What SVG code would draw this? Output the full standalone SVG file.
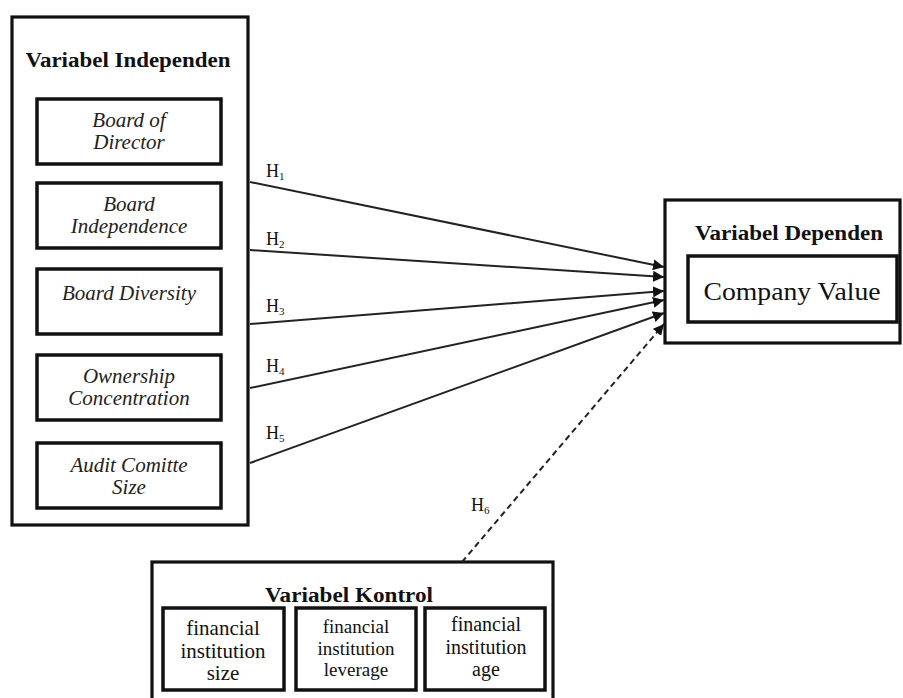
<svg xmlns="http://www.w3.org/2000/svg" width="903" height="698" viewBox="0 0 903 698">
<style>
.outer{fill:#fff;stroke:#111;stroke-width:3.2}
.inner{fill:#fff;stroke:#111;stroke-width:3.5}
.hdr{font-family:"Liberation Serif","Times New Roman",serif;font-weight:bold;font-size:20px;fill:#111;text-anchor:middle}
.it{font-family:"Liberation Serif","Times New Roman",serif;font-style:italic;font-size:21px;fill:#222;text-anchor:middle}
.rm{font-family:"Liberation Serif","Times New Roman",serif;font-size:19px;fill:#111;text-anchor:middle}
.h{font-family:"Liberation Serif","Times New Roman",serif;font-size:18px;fill:#111}
.ln{stroke:#222;stroke-width:2;fill:none}
.dash{stroke:#222;stroke-width:2;fill:none;stroke-dasharray:6 4}
</style>
<defs>
<marker id="arr" viewBox="0 0 10 10" refX="10" refY="5" markerWidth="5.5" markerHeight="5.5" orient="auto" markerUnits="strokeWidth">
<path d="M0,0 L10,5 L0,10 z" fill="#111"/>
</marker>
</defs>
<rect width="903" height="698" fill="#fff"/>

<g id="independen">
<rect class="outer" x="12" y="17" width="236" height="508"/>
<text class="hdr" x="128" y="67" textLength="205" lengthAdjust="spacingAndGlyphs">Variabel Independen</text>
</g>
<g id="board-of-director">
<rect class="inner" x="37" y="99" width="184" height="65"/>
<text class="it" x="129" y="127">Board of</text>
<text class="it" x="129" y="149">Director</text>
</g>
<g id="board-independence">
<rect class="inner" x="37" y="183" width="184" height="65"/>
<text class="it" x="129" y="211">Board</text>
<text class="it" x="129" y="233">Independence</text>
</g>
<g id="board-diversity">
<rect class="inner" x="37" y="269" width="184" height="65"/>
<text class="it" x="129" y="300">Board Diversity</text>
</g>
<g id="ownership-concentration">
<rect class="inner" x="37" y="355" width="184" height="65"/>
<text class="it" x="129" y="383">Ownership</text>
<text class="it" x="129" y="405">Concentration</text>
</g>
<g id="audit-comitte-size">
<rect class="inner" x="37" y="443" width="184" height="65"/>
<text class="it" x="129" y="472">Audit Comitte</text>
<text class="it" x="129" y="494">Size</text>
</g>

<g id="dependen">
<rect class="outer" x="665" y="200" width="235" height="143"/>
<text class="hdr" x="789" y="240" textLength="188" lengthAdjust="spacingAndGlyphs">Variabel Dependen</text>
</g>
<g id="company-value">
<rect class="inner" x="688" y="256" width="209" height="66"/>
<text class="rm" x="792" y="300" style="font-size:26px" textLength="177" lengthAdjust="spacingAndGlyphs">Company Value</text>
</g>

<g id="kontrol">
<rect class="outer" x="152" y="562" width="401" height="150"/>
<text class="hdr" x="349" y="602" textLength="168" lengthAdjust="spacingAndGlyphs">Variabel Kontrol</text>
</g>
<g id="size">
<rect class="inner" x="163" y="608" width="121" height="82"/>
<text class="rm" x="223" y="635" style="font-size:21px">financial</text>
<text class="rm" x="223" y="658" style="font-size:21px">institution</text>
<text class="rm" x="223" y="680" style="font-size:21px">size</text>
</g>
<g id="leverage">
<rect class="inner" x="296" y="608" width="120" height="82"/>
<text class="rm" x="356" y="633" style="font-size:19px">financial</text>
<text class="rm" x="356" y="655" style="font-size:19px">institution</text>
<text class="rm" x="356" y="676" style="font-size:19px">leverage</text>
</g>
<g id="age">
<rect class="inner" x="425" y="608" width="120" height="82"/>
<text class="rm" x="486" y="631" style="font-size:20px">financial</text>
<text class="rm" x="486" y="654" style="font-size:20px">institution</text>
<text class="rm" x="486" y="676" style="font-size:20px">age</text>
</g>

<g id="connectors">
<line class="ln" x1="250" y1="182" x2="664" y2="267" marker-end="url(#arr)"/>
<line class="ln" x1="250" y1="250" x2="664" y2="277" marker-end="url(#arr)"/>
<line class="ln" x1="250" y1="324" x2="664" y2="291" marker-end="url(#arr)"/>
<line class="ln" x1="250" y1="388" x2="664" y2="300" marker-end="url(#arr)"/>
<line class="ln" x1="250" y1="463" x2="664" y2="313" marker-end="url(#arr)"/>
<line class="dash" x1="462" y1="562" x2="664" y2="324" marker-end="url(#arr)"/>
<text class="h" x="266" y="177">H<tspan font-size="11" dy="3">1</tspan></text>
<text class="h" x="266" y="245">H<tspan font-size="11" dy="3">2</tspan></text>
<text class="h" x="266" y="312">H<tspan font-size="11" dy="3">3</tspan></text>
<text class="h" x="266" y="372">H<tspan font-size="11" dy="3">4</tspan></text>
<text class="h" x="266" y="439">H<tspan font-size="11" dy="3">5</tspan></text>
<text class="h" x="471" y="511">H<tspan font-size="11" dy="3">6</tspan></text>
</g>
</svg>
